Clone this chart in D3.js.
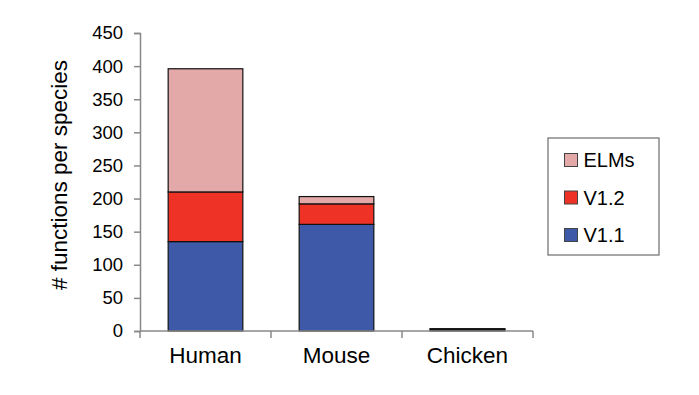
<!DOCTYPE html>
<html>
<head>
<meta charset="utf-8">
<script src="https://cdn.jsdelivr.net/npm/d3@7"></script>
<style>
body { margin: 0; background: #fff; }
text { font-family: "Liberation Sans", Arial, sans-serif; }
</style>
</head>
<body>
<div id="main"></div>
<script>
var WIDTH = 699
var HEIGHT = 395

// data
var species = ["Human", "Mouse", "Chicken"]
var seriesNames = ["V1.1", "V1.2", "ELMs"]
var v11 = [135, 161, 2]
var v12 = [75, 31, 1]
var elms = [186, 11, 0.5]
var yTicks = [0, 50, 100, 150, 200, 250, 300, 350, 400, 450]
var colors = ["#3e59a7", "#ef3226", "#e3a8a8"]

var rows = species.map((s, i) => ({ species: s, "V1.1": v11[i], "V1.2": v12[i], "ELMs": elms[i] }))
var stacked = d3.stack().keys(seriesNames)(rows)

var svg = d3.select('#main').append('svg')
    .attr('width', WIDTH)
    .attr('height', HEIGHT)

var x = d3.scaleBand().domain(species).range([140, 533]).paddingInner(0.43).paddingOuter(0.215)
var y = d3.scaleLinear().domain([0, 450]).range([331, 33])

// bars
svg.append('g').selectAll('g')
    .data(stacked)
    .enter().append('g')
    .attr('fill', (d, i) => colors[i])
    .selectAll('rect')
    .data(d => d)
    .enter().append('rect')
    .attr('x', d => x(d.data.species))
    .attr('width', x.bandwidth())
    .attr('y', d => y(d[1]))
    .attr('height', d => y(d[0]) - y(d[1]))
    .attr('stroke', '#111')
    .attr('stroke-width', 1.2)

// y axis
var yAxis = svg.append('g')
    .attr('transform', 'translate(140,0)')
    .call(d3.axisLeft(y).tickValues(yTicks).tickSize(6).tickPadding(11))
yAxis.select('.domain').attr('stroke', '#888').attr('stroke-width', 1.5)
yAxis.selectAll('.tick line').attr('stroke', '#888').attr('stroke-width', 1.5)
yAxis.selectAll('.tick text').attr('font-size', 18.5).attr('fill', '#000')
    .style('font-family', '"Liberation Sans", Arial, sans-serif')

// x axis
var xg = svg.append('g').attr('transform', 'translate(0,331)')
xg.append('line').attr('x1', 140).attr('x2', 533).attr('y1', 0).attr('y2', 0)
    .attr('stroke', '#888').attr('stroke-width', 1.5)
var edges = [140].concat(species.map(s => x(s) + x.bandwidth() + x.step() * 0.215))
xg.selectAll('line.tk')
    .data(edges)
    .enter().append('line')
    .attr('class', 'tk')
    .attr('x1', d => d).attr('x2', d => d)
    .attr('y1', 0).attr('y2', 7)
    .attr('stroke', '#888').attr('stroke-width', 1.5)
xg.selectAll('text')
    .data(species)
    .enter().append('text')
    .attr('x', d => x(d) + x.bandwidth() / 2)
    .attr('y', 32)
    .attr('text-anchor', 'middle')
    .attr('font-size', 22.5)
    .text(d => d)

// y title
svg.append('text')
    .attr('transform', 'translate(67,175) rotate(-90)')
    .attr('text-anchor', 'middle')
    .attr('font-size', 22.5)
    .text('# functions per species')

// legend
var leg = svg.append('g').attr('transform', 'translate(548,138)')
leg.append('rect').attr('width', 111).attr('height', 117)
    .attr('fill', '#fff').attr('stroke', '#777').attr('stroke-width', 1.3)
var legOrder = [2, 1, 0]
leg.selectAll('g.item')
    .data(legOrder)
    .enter().append('g')
    .attr('class', 'item')
    .attr('transform', (d, i) => 'translate(16.5,' + (15.5 + i * 37.5) + ')')
    .each(function (d) {
        var g = d3.select(this)
        g.append('rect').attr('width', 13).attr('height', 13)
            .attr('fill', colors[d]).attr('stroke', '#444').attr('stroke-width', 1)
        g.append('text').attr('x', 19).attr('y', 13.5).attr('font-size', 20).text(seriesNames[d])
    })
</script>
</body>
</html>
